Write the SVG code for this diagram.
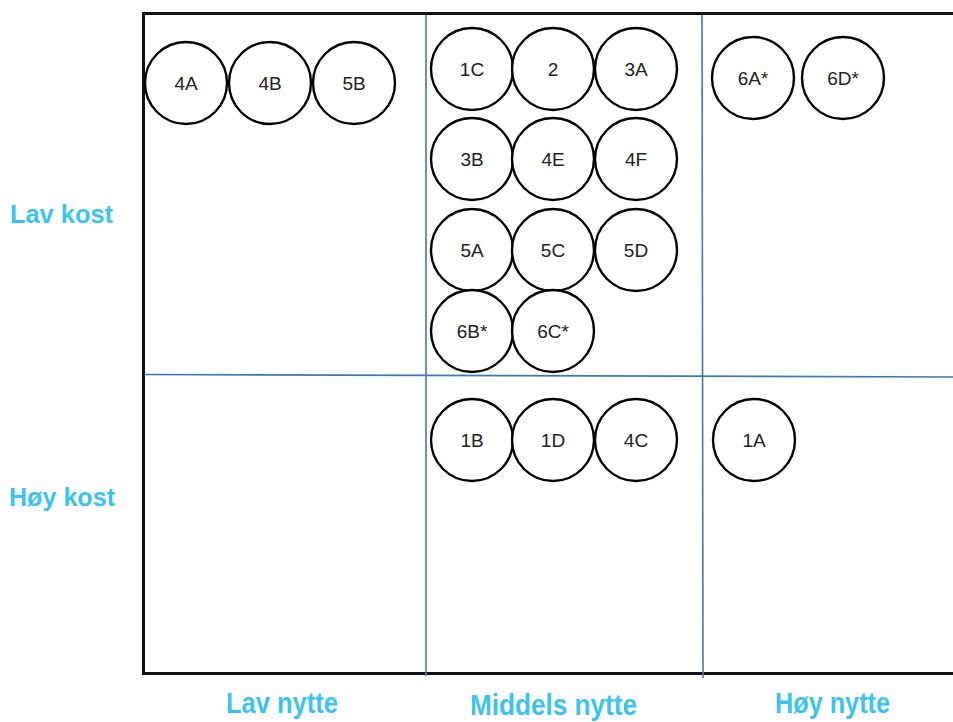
<svg xmlns="http://www.w3.org/2000/svg" width="953" height="722" viewBox="0 0 953 722">
<style>
.frame{fill:none;stroke:#111;stroke-width:3}
.grid{stroke:#3d7ab5;stroke-width:1.6;fill:none}
.node circle{fill:#fff;stroke:#000;stroke-width:2.4}
.node text{font-family:"Liberation Sans",Arial,sans-serif;font-size:19px;fill:#222;text-anchor:middle;dominant-baseline:central}
.axis{font-family:"Liberation Sans",Arial,sans-serif;font-weight:bold;fill:#3cc4ec}
</style>
<rect width="953" height="722" fill="#fff"/>
<g id="grid">
<path class="frame" d="M955,13.5 H143.5 V673.5 H955"/>
<line class="grid" x1="426" y1="15" x2="426" y2="676"/>
<line class="grid" x1="702" y1="15" x2="703" y2="678"/>
<line class="grid" x1="145" y1="374.5" x2="953" y2="377"/>
</g>
<g id="labels">
<text class="axis" x="10" y="223" font-size="25" textLength="103" lengthAdjust="spacingAndGlyphs">Lav kost</text>
<text class="axis" x="9" y="506" font-size="25" textLength="106" lengthAdjust="spacingAndGlyphs">Høy kost</text>
<text class="axis" x="226" y="713" font-size="29" textLength="112" lengthAdjust="spacingAndGlyphs">Lav nytte</text>
<text class="axis" x="470" y="715" font-size="29" textLength="167" lengthAdjust="spacingAndGlyphs">Middels nytte</text>
<text class="axis" x="775" y="713" font-size="29" textLength="115" lengthAdjust="spacingAndGlyphs">Høy nytte</text>
</g>
<g id="n4A" class="node"><circle cx="186" cy="83" r="41"/><text x="186" y="83">4A</text></g>
<g id="n4B" class="node"><circle cx="270" cy="83" r="41"/><text x="270" y="83">4B</text></g>
<g id="n5B" class="node"><circle cx="354" cy="83" r="41"/><text x="354" y="83">5B</text></g>
<g id="n1C" class="node"><circle cx="472" cy="69" r="41"/><text x="472" y="69">1C</text></g>
<g id="n2" class="node"><circle cx="553" cy="69" r="41"/><text x="553" y="69">2</text></g>
<g id="n3A" class="node"><circle cx="636" cy="69" r="41"/><text x="636" y="69">3A</text></g>
<g id="n3B" class="node"><circle cx="472" cy="159" r="41"/><text x="472" y="159">3B</text></g>
<g id="n4E" class="node"><circle cx="553" cy="159" r="41"/><text x="553" y="159">4E</text></g>
<g id="n4F" class="node"><circle cx="636" cy="159" r="41"/><text x="636" y="159">4F</text></g>
<g id="n5A" class="node"><circle cx="472" cy="250" r="41"/><text x="472" y="250">5A</text></g>
<g id="n5C" class="node"><circle cx="553" cy="250" r="41"/><text x="553" y="250">5C</text></g>
<g id="n5D" class="node"><circle cx="636" cy="250" r="41"/><text x="636" y="250">5D</text></g>
<g id="n6B" class="node"><circle cx="472" cy="331" r="41"/><text x="472" y="331">6B*</text></g>
<g id="n6C" class="node"><circle cx="553" cy="331" r="41"/><text x="553" y="331">6C*</text></g>
<g id="n6A" class="node"><circle cx="753" cy="78" r="41"/><text x="753" y="78">6A*</text></g>
<g id="n6D" class="node"><circle cx="843" cy="78" r="41"/><text x="843" y="78">6D*</text></g>
<g id="n1B" class="node"><circle cx="472" cy="440" r="41"/><text x="472" y="440">1B</text></g>
<g id="n1D" class="node"><circle cx="553" cy="440" r="41"/><text x="553" y="440">1D</text></g>
<g id="n4C" class="node"><circle cx="636" cy="440" r="41"/><text x="636" y="440">4C</text></g>
<g id="n1A" class="node"><circle cx="754" cy="440" r="41"/><text x="754" y="440">1A</text></g>
</svg>
